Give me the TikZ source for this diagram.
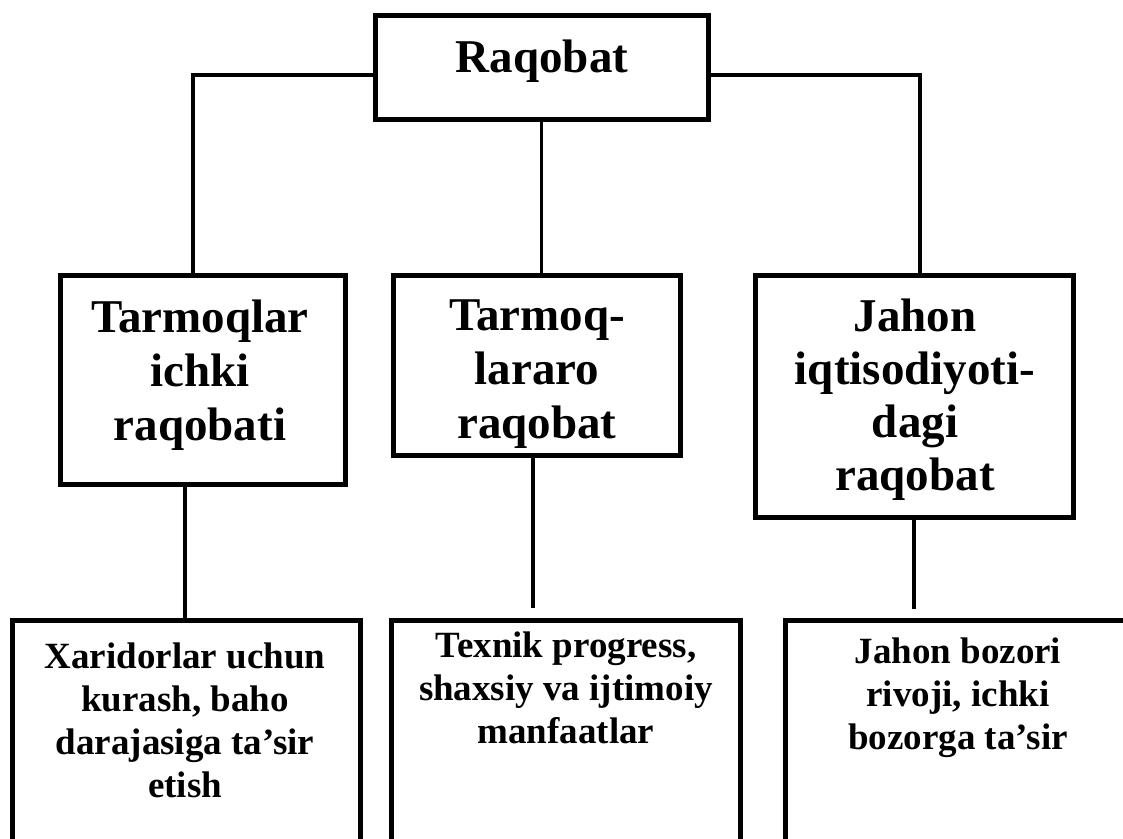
\documentclass[tikz,border=0pt]{standalone}
\usepackage{fontspec}
\setmainfont{Liberation Serif}
\begin{document}
\begin{tikzpicture}[x=1pt,y=-1pt,
  frame/.style={draw, line width=5pt, rectangle, inner sep=0pt, outer sep=0pt},
  link/.style={line width=3.5pt},
  % multi-line labels are placed by the baseline of their last line
  bigtext/.style={font=\bfseries\fontsize{47}{54}\selectfont, align=center, inner sep=0pt, anchor=base},
  smalltext/.style={font=\bfseries\fontsize{37}{43}\selectfont, align=center, inner sep=0pt, anchor=base}]
  \fill[white] (0,0) rectangle (1123,838);
  \useasboundingbox (0,0) rectangle (1123,838);

  % boxes
  \node[frame, minimum width=333pt, minimum height=104pt] (top) at (541.5,67) {};
  \node[frame, minimum width=285pt, minimum height=209pt] (up1) at (202.5,379.5) {};
  \node[frame, minimum width=287pt, minimum height=180pt] (up2) at (536.5,365) {};
  \node[frame, minimum width=318pt, minimum height=242pt] (up3) at (914,396) {};
  \node[frame, minimum width=348pt, minimum height=260pt] (low1) at (186,750) {};
  \node[frame, minimum width=349pt, minimum height=260pt] (low2) at (565.5,750) {};
  \node[frame, minimum width=348pt, minimum height=260pt] (low3) at (959,750) {};

  % labels
  \node[bigtext] (ttop) at (542,72) {Raqobat};
  \node[bigtext] (tup1) at (200,440) {Tarmoqlar\\ichki\\raqobati};
  \node[bigtext] (tup2) at (537,438) {Tarmoq-\\lararo\\raqobat};
  \node[bigtext, font=\bfseries\fontsize{47}{52.7}\selectfont] (tup3) at (915,490) {Jahon\\iqtisodiyoti-\\dagi\\raqobat};
  \node[smalltext] (tlow1) at (185,797) {Xaridorlar uchun\\kurash, baho\\darajasiga ta’sir\\etish};
  \node[smalltext] (tlow2) at (566,743) {Texnik progress,\\shaxsiy va ijtimoiy\\manfaatlar};
  \node[smalltext] (tlow3) at (958,749) {Jahon bozori\\rivoji, ichki\\bozorga ta’sir};

  % connectors
  \coordinate (jl) at (193,75);
  \coordinate (jr) at (920,75);
  \coordinate (b1) at (185,620);
  \coordinate (b2) at (533,608);
  \coordinate (b3) at (914,609);
  \draw[link] (top.west |- jl) -- (jl) -- (up1.north -| jl);
  \draw[link] (top.east |- jr) -- (jr) -- (up3.north -| jr);
  \draw[link] (top.south) -- (top.south |- up2.north);
  \draw[link] (up1.south -| b1) -- (low1.north -| b1);
  \draw[link] (up2.south -| b2) -- (b2);
  \draw[link] (up3.south -| b3) -- (b3);
\end{tikzpicture}
\end{document}
